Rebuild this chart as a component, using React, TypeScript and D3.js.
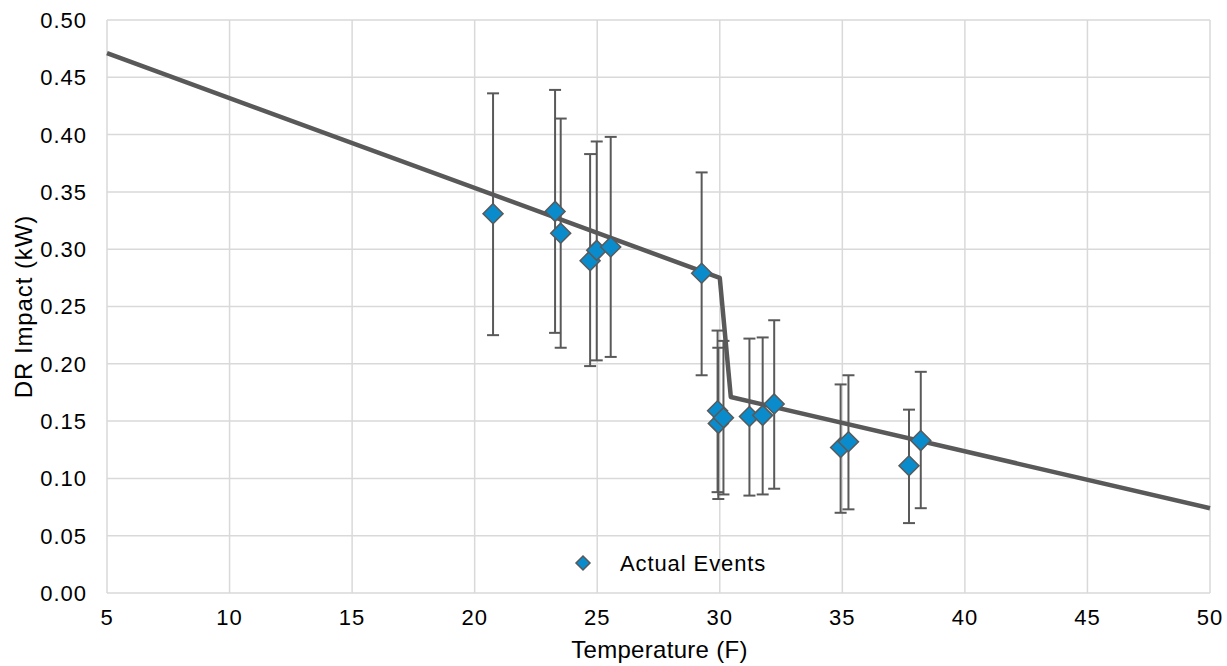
import React from "react";
import * as d3 from "d3";

const temps = [20.75, 23.28, 23.51, 24.71, 24.98, 25.55, 29.26, 29.91, 29.94, 30.15, 31.21, 31.75, 32.22, 34.93, 35.25, 37.72, 38.2];
const impacts = [0.331, 0.333, 0.314, 0.290, 0.299, 0.302, 0.279, 0.159, 0.148, 0.153, 0.154, 0.155, 0.165, 0.127, 0.132, 0.111, 0.133];
const upper = [0.436, 0.439, 0.414, 0.383, 0.394, 0.398, 0.367, 0.229, 0.214, 0.220, 0.222, 0.223, 0.238, 0.182, 0.190, 0.160, 0.193];
const lower = [0.225, 0.227, 0.214, 0.198, 0.203, 0.206, 0.190, 0.088, 0.082, 0.086, 0.085, 0.086, 0.091, 0.070, 0.073, 0.061, 0.074];

const fitX = [5, 30, 30.45, 50];
const fitY = [0.471, 0.275, 0.171, 0.074];

const xTicks = [5, 10, 15, 20, 25, 30, 35, 40, 45, 50];
const yTicks = [0, 0.05, 0.1, 0.15, 0.2, 0.25, 0.3, 0.35, 0.4, 0.45, 0.5];

const W = 1227, H = 666;
const left = 107, right = 1210, top = 20, bottom = 593;
const FONT = "Liberation Sans, Arial, sans-serif";
const GRID = "#d9d9d9";
const DARK = "#595959";
const BLUE = "#0a8ccc";

export default function App() {
  const x = d3.scaleLinear().domain([5, 50]).range([left, right]);
  const y = d3.scaleLinear().domain([0, 0.5]).range([bottom, top]);
  const line = d3.line<number>().x((d, i) => x(fitX[i])).y((d) => y(d));
  const diamond = (cx: number, cy: number, r: number) =>
    `M${cx},${cy - r}L${cx + r},${cy}L${cx},${cy + r}L${cx - r},${cy}Z`;
  const cap = 6;

  return (
    <svg width={W} height={H} style={{ position: "absolute", left: 0, top: 0 }} fontFamily={FONT}>
      <rect width={W} height={H} fill="#fff" />
      {yTicks.map((t) => (
        <line key={"gy" + t} x1={left} x2={right} y1={y(t)} y2={y(t)} stroke={GRID} strokeWidth={1.5} />
      ))}
      {xTicks.map((t) => (
        <line key={"gx" + t} x1={x(t)} x2={x(t)} y1={top} y2={bottom} stroke={GRID} strokeWidth={1.5} />
      ))}
      {yTicks.map((t) => (
        <text key={"ty" + t} x={87} y={y(t)} dy="0.36em" textAnchor="end" fontSize={22} letterSpacing={1} fill="#000">
          {d3.format(".2f")(t)}
        </text>
      ))}
      {xTicks.map((t) => (
        <text key={"tx" + t} x={x(t)} y={625} textAnchor="middle" fontSize={22} letterSpacing={1} fill="#000">
          {t}
        </text>
      ))}
      <text x={(left + right) / 2 + 1} y={658} textAnchor="middle" fontSize={24} letterSpacing={0.3} fill="#000">
        Temperature (F)
      </text>
      <text transform={`translate(32,${(top + bottom) / 2}) rotate(-90)`} textAnchor="middle" fontSize={24} letterSpacing={0.9} fill="#000">
        DR Impact (kW)
      </text>

      <path d={line(fitY) || ""} fill="none" stroke={DARK} strokeWidth={4.5} strokeLinejoin="round" />

      {temps.map((t, i) => (
        <g key={"e" + i} stroke={DARK} strokeWidth={2}>
          <line x1={x(t)} x2={x(t)} y1={y(upper[i])} y2={y(lower[i])} />
          <line x1={x(t) - cap} x2={x(t) + cap} y1={y(upper[i])} y2={y(upper[i])} />
          <line x1={x(t) - cap} x2={x(t) + cap} y1={y(lower[i])} y2={y(lower[i])} />
        </g>
      ))}
      {temps.map((t, i) => (
        <path key={"m" + i} d={diamond(x(t), y(impacts[i]), 10)} fill={BLUE} stroke={DARK} strokeWidth={1.5} />
      ))}

      <path d={diamond(583, 563, 7)} fill={BLUE} stroke={DARK} strokeWidth={1.5} />
      <text x={620} y={563} dy="0.36em" fontSize={22} letterSpacing={0.9} fill="#000">Actual Events</text>
    </svg>
  );
}
